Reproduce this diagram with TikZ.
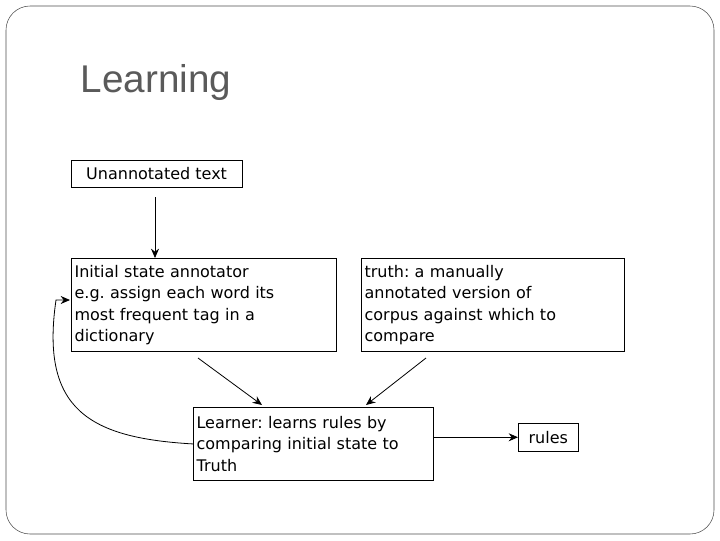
\documentclass[tikz,border=0pt]{standalone}
\usepackage{fontspec}
\setmainfont{DejaVu Sans}
\newfontfamily\titlefont{Liberation Sans}
\usetikzlibrary{positioning,arrows.meta}
\definecolor{titlegray}{RGB}{90,90,90}
\frenchspacing
\begin{document}
\begin{tikzpicture}[x=0.75pt,y=-0.75pt,
  box/.style={draw,thin,align=left,anchor=north west,inner sep=2.5pt,font=\fontsize{12}{16}\selectfont},
  flow/.style={-{Stealth[length=7pt,width=6pt]},semithick}]
\useasboundingbox (0,0) rectangle (720,540);
\draw[black!70,rounded corners=18pt] (6,6) rectangle (714,534);
\node[anchor=west,text=titlegray,font=\titlefont\fontsize{29}{32}\selectfont] (title) at (76,82) {Learning};

\node[box,minimum width=128pt,minimum height=20pt] (raw) at (71,160) {Unannotated text};
\node[box,text width=194pt,minimum height=70pt] (init) at (71,258)
  {Initial state annotator\\e.g. assign each word its\\most frequent tag in a\\dictionary};
\node[box,text width=192pt,minimum height=70pt] (truth) at (361,258)
  {truth: a manually\\annotated version of\\corpus against which to\\compare};
\node[box,text width=175pt,minimum height=55pt] (learner) at (193,407)
  {Learner: learns rules by\\comparing initial state to\\Truth};
\node[box,minimum width=45pt,minimum height=21pt,align=center] (rules) at (518,423) {rules};

\coordinate (a1) at (155,197);
\draw[flow] (a1) -- (init.north -| a1);
\draw[flow] (198,358) -- (262,405);
\draw[flow] (426,358) -- (366,405);
\draw[flow] (learner.east |- rules.west) -- (rules.west);
\draw[flow] (learner.west) .. controls (90,438) and (40,410) .. (56,300) -- (70,300);
\end{tikzpicture}
\end{document}
